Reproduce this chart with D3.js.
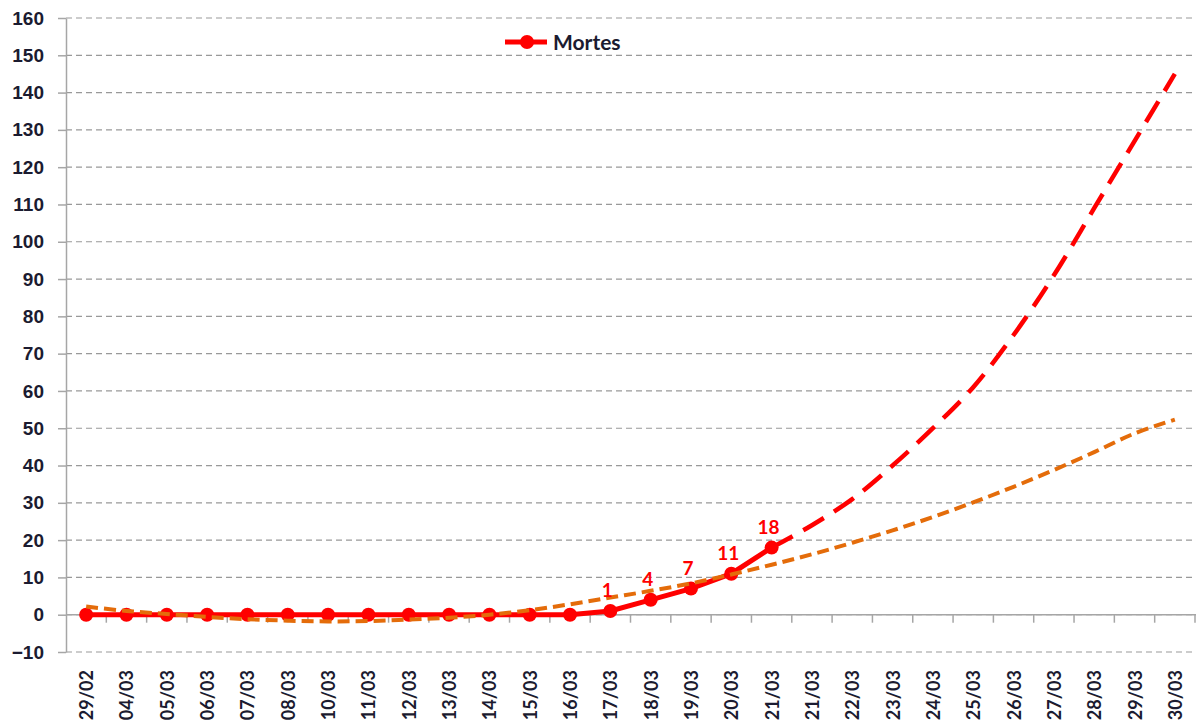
<!DOCTYPE html>
<meta charset="utf-8">
<style>
  body { margin: 0; background: #fff; }
  svg { display: block; font-family: Lato, "Open Sans", sans-serif; }
  .grid line { stroke: #999; stroke-dasharray: 6 4; stroke-width: 1.2px; }
  .axis path, .axis line { stroke: #a6a6a6; stroke-width: 1.5px; }
  .axis text { font-weight: bold; fill: #1b1b30; }
</style>
<body>
<script src="https://d3js.org/d3.v7.min.js"></script>
<script>
  // categories on the x axis (21/03 appears twice in the original)
  var days = ["29/02", "04/03", "05/03", "06/03", "07/03", "08/03", "10/03", "11/03", "12/03",
    "13/03", "14/03", "15/03", "16/03", "17/03", "18/03", "19/03", "20/03", "21/03", "21/03",
    "22/03", "23/03", "24/03", "25/03", "26/03", "27/03", "28/03", "29/03", "30/03"];

  // deaths (observed)
  var mortes = [0, 0, 0, 0, 0, 0, 0, 0, 0, 0, 0, 0, 0, 1, 4, 7, 11, 18];

  // red dashed projection, starting at the last observed day
  var projStart = 17;
  var projecao = [18, 24, 31, 40, 50, 61, 75, 91, 109, 127, 145];

  // orange dashed trend over the whole period
  var tendencia = [2.2, 1.0, 0.2, -0.6, -1.2, -1.6, -1.8, -1.7, -1.3, -0.8, 0, 1.2, 2.8, 4.6,
    6.4, 8.4, 10.8, 13.4, 16.2, 19.3, 22.6, 26.2, 30.1, 34.3, 38.8, 43.6, 48.6, 52.3];

  var yTicks = d3.range(-10, 161, 10);

  var W = 1200, H = 726;
  var margin = { top: 18, right: 4, bottom: 74, left: 66 };
  var width = W - margin.left - margin.right,
    height = H - margin.top - margin.bottom;

  var svg = d3.select("body").append("svg")
    .attr("width", W)
    .attr("height", H)
    .append("g")
    .attr("transform", "translate(" + margin.left + "," + margin.top + ")");

  var x = d3.scaleBand().domain(d3.range(days.length)).range([0, 1129]);
  var y = d3.scaleLinear().domain([-10, 160]).range([height, 0]);
  var cx = function (i) { return x(i) + x.bandwidth() / 2; };

  // horizontal dashed gridlines
  svg.append("g")
    .attr("class", "grid")
    .selectAll("line")
    .data(yTicks)
    .enter()
    .append("line")
    .attr("x1", 0)
    .attr("x2", width)
    .attr("y1", function (d) { return y(d); })
    .attr("y2", function (d) { return y(d); });

  // y axis
  var yAxis = svg.append("g")
    .attr("class", "axis")
    .call(d3.axisLeft(y).tickValues(yTicks).tickSize(8).tickPadding(14).tickSizeOuter(0));
  yAxis.selectAll("text").style("font-size", "19px");

  // x axis sits on y = 0, tick marks at category boundaries
  var xAxis = svg.append("g")
    .attr("class", "axis")
    .attr("transform", "translate(0," + y(0) + ")");
  xAxis.append("line")
    .attr("x1", 0).attr("x2", width);
  xAxis.selectAll(".tk")
    .data(d3.range(1, days.length + 1))
    .enter()
    .append("line")
    .attr("class", "tk")
    .attr("x1", function (i) { return i * x.bandwidth(); })
    .attr("x2", function (i) { return i * x.bandwidth(); })
    .attr("y1", 0)
    .attr("y2", 8);

  // rotated day labels under the plot
  svg.append("g")
    .attr("class", "axis")
    .selectAll("text")
    .data(days)
    .enter()
    .append("text")
    .attr("transform", function (d, i) {
      return "translate(" + (cx(i) + 7) + "," + (height + 18) + ") rotate(-90)";
    })
    .attr("text-anchor", "end")
    .style("font-size", "18px")
    .text(function (d) { return d; });

  var line = d3.line()
    .x(function (d) { return cx(d.i); })
    .y(function (d) { return y(d.v); });
  var curve = d3.line()
    .curve(d3.curveCatmullRom)
    .x(function (d) { return cx(d.i); })
    .y(function (d) { return y(d.v); });

  var mortesPts = mortes.map(function (v, i) { return { i: i, v: v }; });
  var projPts = projecao.map(function (v, k) { return { i: projStart + k, v: v }; });
  var tendPts = tendencia.map(function (v, i) { return { i: i, v: v }; });

  // red dashed projection
  svg.append("path")
    .datum(projPts)
    .attr("d", curve)
    .attr("fill", "none")
    .attr("stroke", "#ff0000")
    .attr("stroke-width", 4.5)
    .attr("stroke-dasharray", "24 12");

  // observed deaths
  svg.append("path")
    .datum(mortesPts)
    .attr("d", line)
    .attr("fill", "none")
    .attr("stroke", "#ff0000")
    .attr("stroke-width", 5);

  svg.selectAll(".pt")
    .data(mortesPts)
    .enter()
    .append("circle")
    .attr("class", "pt")
    .attr("cx", function (d) { return cx(d.i); })
    .attr("cy", function (d) { return y(d.v); })
    .attr("r", 7)
    .attr("fill", "#ff0000");

  // orange dashed trend on top
  svg.append("path")
    .datum(tendPts)
    .attr("d", curve)
    .attr("fill", "none")
    .attr("stroke", "#e46c0a")
    .attr("stroke-width", 4)
    .attr("stroke-dasharray", "12 6");

  // data labels for non-zero values
  svg.selectAll(".lbl")
    .data(mortesPts.filter(function (d) { return d.v > 0; }))
    .enter()
    .append("text")
    .attr("class", "lbl")
    .attr("x", function (d) { return cx(d.i) - 3; })
    .attr("y", function (d) { return y(d.v) - 14; })
    .attr("text-anchor", "middle")
    .style("font-size", "19px")
    .style("font-weight", "bold")
    .attr("fill", "#ff0000")
    .text(function (d) { return d.v; });

  // legend
  var lg = svg.append("g").attr("transform", "translate(439," + (42 - margin.top) + ")");
  lg.append("line").attr("x1", 0).attr("x2", 42).attr("y1", 0).attr("y2", 0)
    .attr("stroke", "#ff0000").attr("stroke-width", 5);
  lg.append("circle").attr("cx", 22).attr("cy", 0).attr("r", 7).attr("fill", "#ff0000");
  lg.append("text").attr("x", 48).attr("y", 7.5)
    .style("font-size", "21px").style("font-weight", "bold").attr("fill", "#1b1b30")
    .text("Mortes");
</script>
</body>
